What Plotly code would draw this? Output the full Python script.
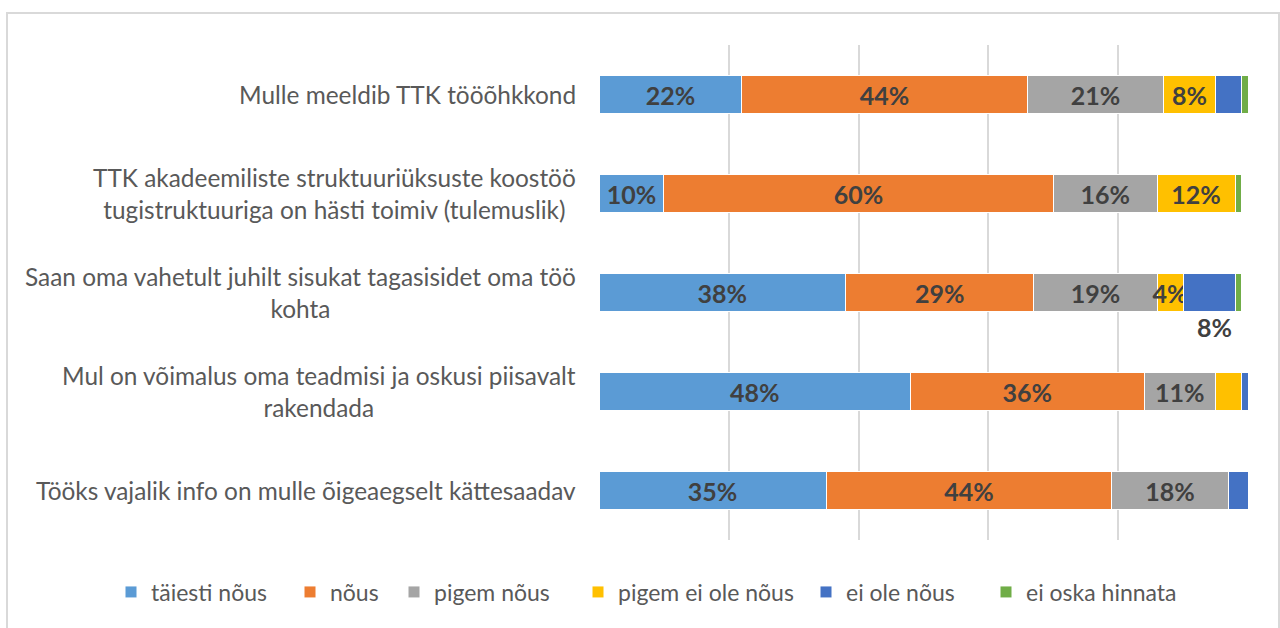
import plotly.graph_objects as go

categories = [
    "Mulle meeldib TTK tööõhkkond",
    "TTK akadeemiliste struktuuriüksuste koostöö<br>tugistruktuuriga on hästi toimiv (tulemuslik)",
    "Saan oma vahetult juhilt sisukat tagasisidet oma töö<br>kohta",
    "Mul on võimalus oma teadmisi ja oskusi piisavalt<br>rakendada",
    "Tööks vajalik info on mulle õigeaegselt kättesaadav",
]
series_names = ["täiesti nõus", "nõus", "pigem nõus", "pigem ei ole nõus", "ei ole nõus", "ei oska hinnata"]
taiesti_nous = [22, 10, 38, 48, 35]
nous = [44, 60, 29, 36, 44]
pigem_nous = [21, 16, 19, 11, 18]
pigem_ei_ole_nous = [8, 12, 4, 4, 0]
ei_ole_nous = [4, 0, 8, 1, 3]
ei_oska_hinnata = [1, 1, 1, 0, 0]
values = [taiesti_nous, nous, pigem_nous, pigem_ei_ole_nous, ei_ole_nous, ei_oska_hinnata]
# which labels are displayed inside the bars
show_label = [
    [1, 1, 1, 1, 1],
    [1, 1, 1, 1, 1],
    [1, 1, 1, 1, 1],
    [1, 1, 1, 0, 0],
    [0, 0, 0, 0, 0],
    [0, 0, 0, 0, 0],
]
colors = ["#5B9BD5", "#ED7D31", "#A5A5A5", "#FFC000", "#4472C4", "#70AD47"]
# legend entry marker positions (pixels)
legend_px = [130, 309, 413, 597, 825, 1005]

FONT = "Lato"
LBL = 25
fig = go.Figure()
legend_layouts = {}
for i, (name, vals, show, col) in enumerate(zip(series_names, values, show_label, colors)):
    texts = [f"{v}%" if s else "" for v, s in zip(vals, show)]
    lg = "legend" if i == 0 else f"legend{i + 1}"
    fig.add_trace(go.Bar(
        y=categories, x=vals, name=name, orientation="h",
        marker=dict(color=col, line=dict(color="white", width=1)),
        text=texts, textposition="inside", insidetextanchor="middle",
        textangle=0, constraintext="none",
        textfont=dict(family=FONT, size=LBL, color="#404040", weight="bold"),
        hoverinfo="skip", legend=lg,
    ))
    legend_layouts[lg] = dict(
        orientation="h", xref="paper", yref="paper",
        x=(legend_px[i] - 19 - 599) / 649, xanchor="left",
        y=(540 - 592) / 495, yanchor="middle", bgcolor="rgba(0,0,0,0)",
        font=dict(family=FONT, size=23, color="#595959"),
        itemclick=False, itemdoubleclick=False)

# displaced label for "ei ole nõus" of the third row
row = 2
start = sum(v[row] for v in values[:4])
mid = start + ei_ole_nous[row] / 2
fig.add_annotation(x=mid, y=categories[row], xref="x", yref="y",
                   text=f"{ei_ole_nous[row]}%", showarrow=False, yshift=-34, xshift=5,
                   font=dict(family=FONT, size=LBL, color="#404040", weight="bold"))

# category labels (centered lines, right-aligned block)
for c in categories:
    fig.add_annotation(x=-21 / 649, y=c, xref="paper", yref="y", text=c,
                       showarrow=False, xanchor="right", align="center",
                       font=dict(family=FONT, size=24.4, color="#595959"))

# outer chart border
fig.add_shape(type="rect", xref="paper", yref="paper",
              x0=(7 - 599) / 649, x1=(1279 - 599) / 649,
              y0=(540 - 660) / 495, y1=(540 - 13) / 495,
              line=dict(color="#D9D9D9", width=2), fillcolor="rgba(0,0,0,0)", layer="below")

fig.update_layout(
    width=1280, height=628,
    barmode="stack", bargap=0.615,
    margin=dict(l=599, r=32, t=45, b=88, autoexpand=False),
    paper_bgcolor="white", plot_bgcolor="white",
    font=dict(family=FONT, color="#595959"),
    showlegend=True,
    **legend_layouts,
)
fig.update_xaxes(range=[0, 100], dtick=20, showgrid=True, gridcolor="#D9D9D9", gridwidth=1.5,
                 showticklabels=False, zeroline=False, showline=False, fixedrange=True)
fig.update_yaxes(autorange="reversed", showticklabels=False, showgrid=False,
                 zeroline=False, showline=False, fixedrange=True)

fig.write_html("out.html", config={"displayModeBar": False},
               post_script="document.body.style.margin='0';")
